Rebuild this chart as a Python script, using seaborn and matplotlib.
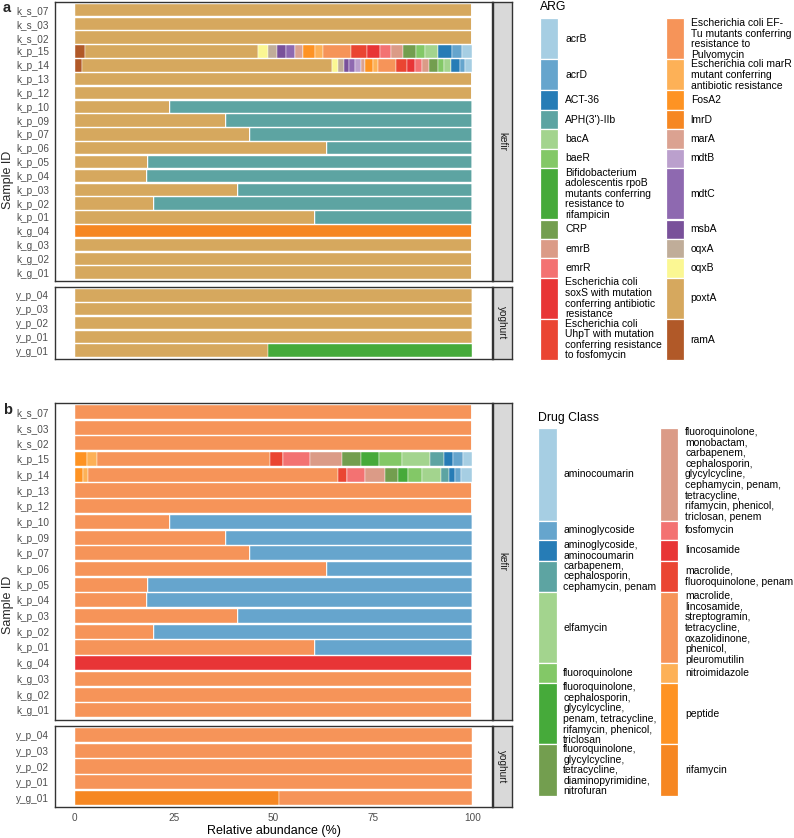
import numpy as np
import pandas as pd
import matplotlib
matplotlib.use("Agg")
import matplotlib.pyplot as plt
from matplotlib.colors import LinearSegmentedColormap, to_hex
from matplotlib.patches import Rectangle
import seaborn as sns

# ---------------------------------------------------------------- data
KEFIR_SAMPLES = ['k_s_07', 'k_s_03', 'k_s_02', 'k_p_15', 'k_p_14', 'k_p_13', 'k_p_12',
                 'k_p_10', 'k_p_09', 'k_p_07', 'k_p_06', 'k_p_05', 'k_p_04', 'k_p_03',
                 'k_p_02', 'k_p_01', 'k_g_04', 'k_g_03', 'k_g_02', 'k_g_01']
YOGHURT_SAMPLES = ['y_p_04', 'y_p_03', 'y_p_02', 'y_p_01', 'y_g_01']

ARG_LEVELS = ['acrB', 'acrD', 'ACT-36', "APH(3')-IIb", 'bacA', 'baeR',
              'Bifidobacterium adolescentis rpoB mutants conferring resistance to rifampicin',
              'CRP', 'emrB', 'emrR',
              'Escherichia coli soxS with mutation conferring antibiotic resistance',
              'Escherichia coli UhpT with mutation conferring resistance to fosfomycin',
              'Escherichia coli EF-Tu mutants conferring resistance to Pulvomycin',
              'Escherichia coli marR mutant conferring antibiotic resistance',
              'FosA2', 'lmrD', 'marA', 'mdtB', 'mdtC', 'msbA', 'oqxA', 'oqxB', 'poxtA', 'ramA']
ARG_LABELS = ['acrB', 'acrD', 'ACT-36', "APH(3')-IIb", 'bacA', 'baeR',
              'Bifidobacterium\nadolescentis rpoB\nmutants conferring\nresistance to\nrifampicin',
              'CRP', 'emrB', 'emrR',
              'Escherichia coli\nsoxS with mutation\nconferring antibiotic\nresistance',
              'Escherichia coli\nUhpT with mutation\nconferring resistance\nto fosfomycin',
              'Escherichia coli EF-\nTu mutants conferring\nresistance to\nPulvomycin',
              'Escherichia coli marR\nmutant conferring\nantibiotic resistance',
              'FosA2', 'lmrD', 'marA', 'mdtB', 'mdtC', 'msbA', 'oqxA', 'oqxB', 'poxtA', 'ramA']

CLASS_LEVELS = ['aminocoumarin', 'aminoglycoside', 'aminoglycoside, aminocoumarin',
                'carbapenem, cephalosporin, cephamycin, penam', 'elfamycin', 'fluoroquinolone',
                'fluoroquinolone, cephalosporin, glycylcycline, penam, tetracycline, rifamycin, phenicol, triclosan',
                'fluoroquinolone, glycylcycline, tetracycline, diaminopyrimidine, nitrofuran',
                'fluoroquinolone, monobactam, carbapenem, cephalosporin, glycylcycline, cephamycin, penam, tetracycline, rifamycin, phenicol, triclosan, penem',
                'fosfomycin', 'lincosamide', 'macrolide, fluoroquinolone, penam',
                'macrolide, lincosamide, streptogramin, tetracycline, oxazolidinone, phenicol, pleuromutilin',
                'nitroimidazole', 'peptide', 'rifamycin']
CLASS_LABELS = ['aminocoumarin', 'aminoglycoside', 'aminoglycoside,\naminocoumarin',
                'carbapenem,\ncephalosporin,\ncephamycin, penam', 'elfamycin', 'fluoroquinolone',
                'fluoroquinolone,\ncephalosporin,\nglycylcycline,\npenam, tetracycline,\nrifamycin, phenicol,\ntriclosan',
                'fluoroquinolone,\nglycylcycline,\ntetracycline,\ndiaminopyrimidine,\nnitrofuran',
                'fluoroquinolone,\nmonobactam,\ncarbapenem,\ncephalosporin,\nglycylcycline,\ncephamycin, penam,\ntetracycline,\nrifamycin, phenicol,\ntriclosan, penem',
                'fosfomycin', 'lincosamide', 'macrolide,\nfluoroquinolone, penam',
                'macrolide,\nlincosamide,\nstreptogramin,\ntetracycline,\noxazolidinone,\nphenicol,\npleuromutilin',
                'nitroimidazole', 'peptide', 'rifamycin']

# samples where poxtA shares the bar with APH(3')-IIb (poxtA %)
SPLIT_SAMPLES = ['k_p_10', 'k_p_09', 'k_p_07', 'k_p_06', 'k_p_05', 'k_p_04', 'k_p_03', 'k_p_02', 'k_p_01']
SPLIT_POXTA = [24.1, 38.0, 44.1, 63.5, 18.5, 18.3, 41.1, 19.9, 60.4]
Y_G_01_POXTA = 48.7  # the rest is Bifidobacterium rpoB

# the two mixed samples, values follow ARG_LEVELS / CLASS_LEVELS
K_P_15_ARG = [2.6, 2.6, 3.5, 0, 3.3, 2.3, 0, 3.2, 2.9, 2.9, 3.3, 3.8, 7.1, 2.0,
              3.2, 0, 1.8, 0, 2.3, 2.3, 2.3, 2.5, 43.4, 2.7]
K_P_14_ARG = [1.75, 1.35, 2.25, 0, 1.85, 1.5, 0, 2.25, 1.75, 1.65, 2.1, 2.65, 4.75, 1.1,
              2.1, 0, 1.0, 1.4, 1.6, 1.15, 1.5, 1.65, 62.9, 1.75]
K_P_15_CLASS = [2.3, 2.5, 2.3, 3.5, 7.2, 5.6, 4.6, 4.8, 7.9, 7.0, 0, 3.3, 43.3, 2.5, 3.2, 0]
K_P_14_CLASS = [2.75, 1.6, 1.4, 2.1, 4.85, 3.35, 2.65, 3.15, 5.0, 4.6, 0, 2.25, 62.8, 1.45, 2.0, 0]

ARG_TO_CLASS = {
    'poxtA': CLASS_LEVELS[12],
    "APH(3')-IIb": CLASS_LEVELS[1],
    'lmrD': CLASS_LEVELS[10],
    ARG_LEVELS[6]: CLASS_LEVELS[15],
}

W, H = 794, 838


def build_arg_table() -> pd.DataFrame:
    rows = []
    for s in KEFIR_SAMPLES + YOGHURT_SAMPLES:
        if s == 'k_p_15':
            rows += [(s, g, v) for g, v in zip(ARG_LEVELS, K_P_15_ARG) if v > 0]
        elif s == 'k_p_14':
            rows += [(s, g, v) for g, v in zip(ARG_LEVELS, K_P_14_ARG) if v > 0]
        elif s in SPLIT_SAMPLES:
            p = SPLIT_POXTA[SPLIT_SAMPLES.index(s)]
            rows += [(s, 'poxtA', p), (s, "APH(3')-IIb", 100 - p)]
        elif s == 'y_g_01':
            rows += [(s, 'poxtA', Y_G_01_POXTA), (s, ARG_LEVELS[6], 100 - Y_G_01_POXTA)]
        elif s == 'k_g_04':
            rows.append((s, 'lmrD', 100.0))
        else:
            rows.append((s, 'poxtA', 100.0))
    df = pd.DataFrame(rows, columns=['sample', 'gene', 'pct'])
    df['food'] = np.where(df['sample'].str.startswith('k'), 'kefir', 'yoghurt')
    return df


def build_class_table(arg_df: pd.DataFrame) -> pd.DataFrame:
    simple = arg_df[~arg_df['sample'].isin(['k_p_15', 'k_p_14'])].copy()
    simple['gene'] = simple['gene'].map(ARG_TO_CLASS)
    mixed = []
    for s, vals in [('k_p_15', K_P_15_CLASS), ('k_p_14', K_P_14_CLASS)]:
        mixed += [(s, c, v, 'kefir') for c, v in zip(CLASS_LEVELS, vals) if v > 0]
    mixed = pd.DataFrame(mixed, columns=['sample', 'gene', 'pct', 'food'])
    return pd.concat([simple, mixed], ignore_index=True)


def px_axes(fig, x0, y0, x1, y1):
    return fig.add_axes([x0 / W, 1 - y1 / H, (x1 - x0) / W, (y1 - y0) / H])


def draw_facet(fig, df, food, samples, levels, palette, y0, y1, bottom_axis):
    ax = px_axes(fig, 54.7, y0, 492.3, y1)
    sub = df[df['food'] == food].copy()
    sub['sample'] = pd.Categorical(sub['sample'], categories=samples)
    sns.histplot(data=sub, y='sample', weights='pct', hue='gene', hue_order=levels,
                 palette=palette, multiple='stack', discrete=True, shrink=0.9,
                 alpha=1, edgecolor='white', linewidth=0.3, legend=False, ax=ax)
    ax.set_xlim(-5, 105)
    ax.set_ylim(len(samples) - 0.4, -0.6)
    ax.set_xlabel('')
    ax.set_ylabel('')
    ax.set_xticks([0, 25, 50, 75, 100])
    ax.set_facecolor('white')
    for sp in ax.spines.values():
        sp.set_color('#333333')
        sp.set_linewidth(1.0)
    ax.tick_params(axis='both', labelsize=7.2, labelcolor='#4D4D4D', color='#333333',
                   length=2.5, width=0.6, pad=1.5)
    if not bottom_axis:
        ax.tick_params(axis='x', bottom=False, labelbottom=False)
    strip = px_axes(fig, 492.5, y0, 512, y1)
    strip.set_facecolor('#D9D9D9')
    strip.set_xticks([])
    strip.set_yticks([])
    for sp in strip.spines.values():
        sp.set_color('#333333')
        sp.set_linewidth(1.0)
    strip.text(0.5, 0.5, food, rotation=270, ha='center', va='center', fontsize=7.2,
               color='#1A1A1A', transform=strip.transAxes)
    return ax


def row_height(label):
    return max(19.4, 10.2 * (label.count('\n') + 1) + 0.4)


def draw_legend(lax, title, title_y, labels, colors, key_x, text_x, y_start, title_x):
    lax.text(title_x, title_y, title, fontsize=8.8, ha='left', va='center', color='black')
    nrow = int(np.ceil(len(labels) / 2))
    y = y_start
    for r in range(nrow):
        idx = [r, r + nrow]
        idx = [i for i in idx if i < len(labels)]
        h = max(row_height(labels[i]) for i in idx)
        for c, i in enumerate(idx):
            lax.add_patch(Rectangle((key_x[c], y), 18.3, h, facecolor=colors[i],
                                    edgecolor='white', linewidth=0.9))
            lax.text(text_x[c], y + h / 2, labels[i], fontsize=7.5, ha='left', va='center',
                     linespacing=1.08, color='black')
        y += h


def main():
    sns.set_theme(style='white')
    plt.rcParams['font.family'] = ['Liberation Sans', 'DejaVu Sans']

    cmap = LinearSegmentedColormap.from_list('paired', sns.color_palette('Paired', 12))
    colors24 = [to_hex(cmap(i / 23)) for i in range(24)]
    arg_pal = dict(zip(ARG_LEVELS, colors24))
    class_pal = dict(zip(CLASS_LEVELS, colors24[:16]))

    arg_df = build_arg_table()
    class_df = build_class_table(arg_df)

    fig = plt.figure(figsize=(W / 100, H / 100), dpi=100)
    fig.patch.set_facecolor('white')

    # panel a
    draw_facet(fig, arg_df, 'kefir', KEFIR_SAMPLES, ARG_LEVELS, arg_pal, 1.7, 281, False)
    draw_facet(fig, arg_df, 'yoghurt', YOGHURT_SAMPLES, ARG_LEVELS, arg_pal, 287, 359, False)
    # panel b
    draw_facet(fig, class_df, 'kefir', KEFIR_SAMPLES, CLASS_LEVELS, class_pal, 402.6, 719.7, False)
    axb = draw_facet(fig, class_df, 'yoghurt', YOGHURT_SAMPLES, CLASS_LEVELS, class_pal, 725.7, 807.3, True)
    axb.set_xlabel('Relative abundance (%)', fontsize=9, color='black', labelpad=1.5)

    lax = fig.add_axes([0, 0, 1, 1], zorder=-1)
    lax.set_xlim(0, W)
    lax.set_ylim(H, 0)
    lax.axis('off')
    lax.text(3, 8, 'a', fontsize=10.5, fontweight='bold', ha='left', va='center')
    lax.text(3, 410, 'b', fontsize=10.5, fontweight='bold', ha='left', va='center')
    lax.text(8, 180, 'Sample ID', fontsize=9, rotation=90, ha='center', va='center')
    lax.text(8, 605, 'Sample ID', fontsize=9, rotation=90, ha='center', va='center')

    draw_legend(lax, 'ARG', 7, ARG_LABELS, colors24, [540, 665.7], [565, 690.7], 18.3, 540)
    draw_legend(lax, 'Drug Class', 418, CLASS_LABELS, colors24[:16], [538.3, 660],
                [563.3, 685], 428.3, 538.3)

    fig.savefig('out.png', dpi=100, facecolor='white')
    plt.close(fig)


if __name__ == '__main__':
    main()
